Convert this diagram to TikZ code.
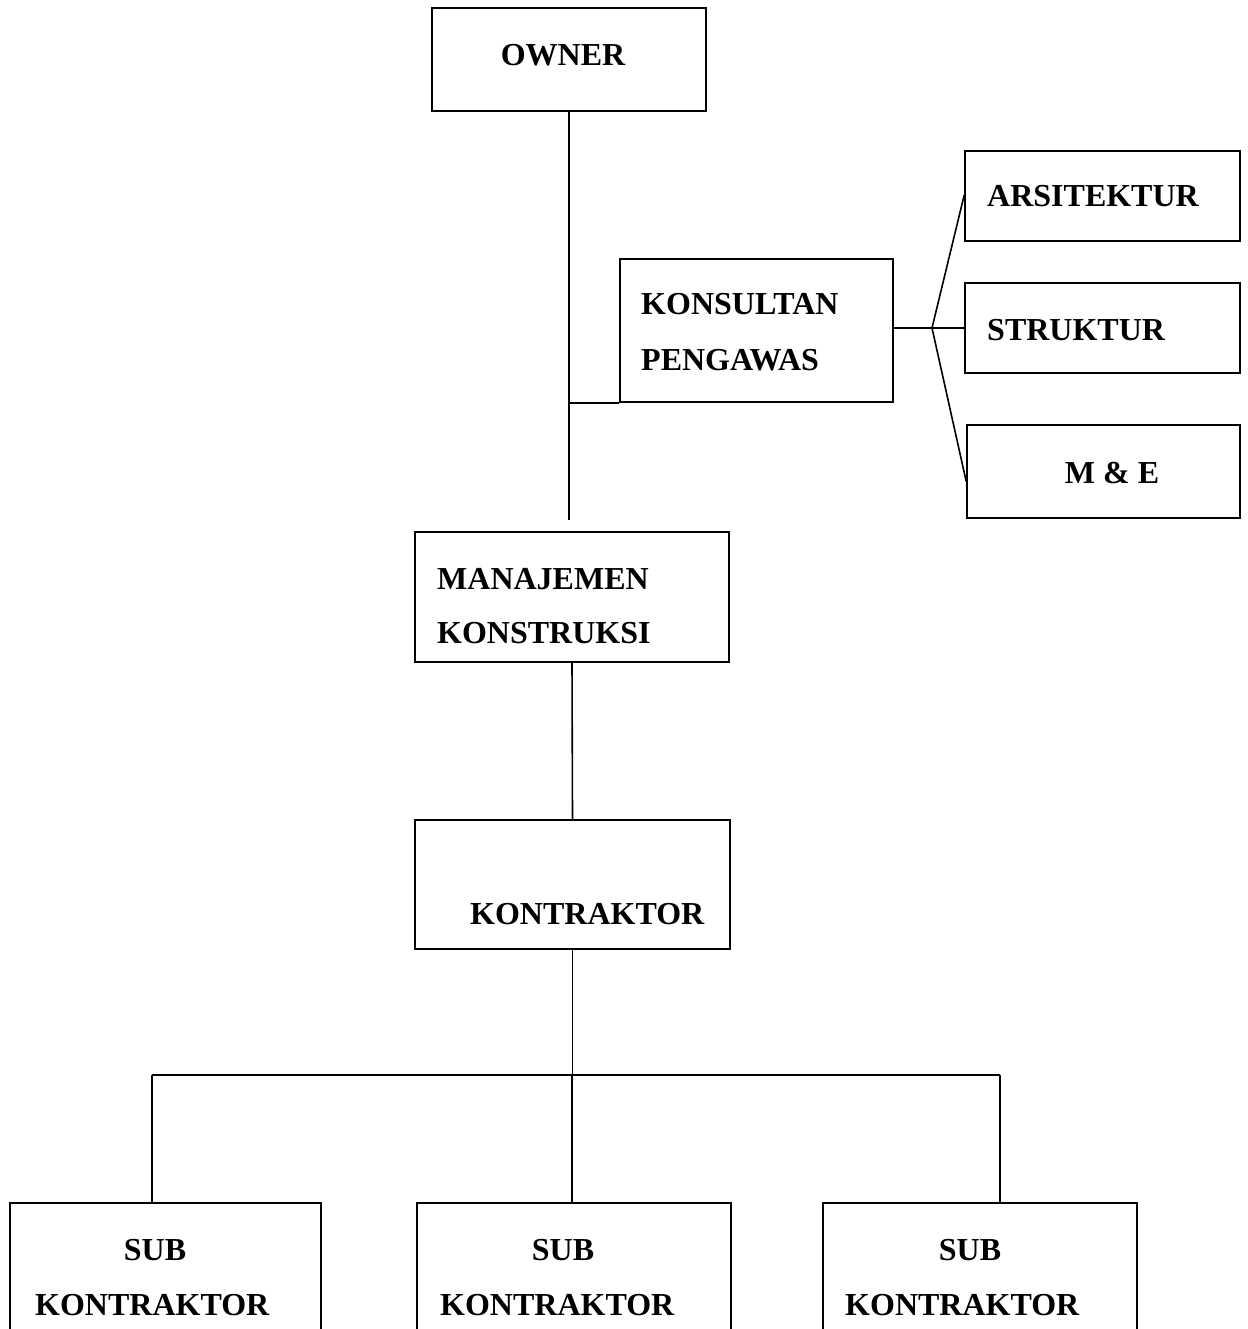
\documentclass[tikz,border=0pt]{standalone}
\usepackage{fontspec}
\setmainfont{Liberation Serif}
\begin{document}
\begin{tikzpicture}[x=1pt,y=-1pt,
  box/.style={draw, line width=1.6pt, inner sep=0pt},
  lbl/.style={font=\fontsize{32}{38}\selectfont\bfseries, inner sep=0pt},
  conn/.style={line width=1.6pt}]
\useasboundingbox (0,0) rectangle (1247,1329);
% boxes
\node[box, minimum width=274pt, minimum height=103pt] (owner) at (569,59.5) {};
\node[box, minimum width=275pt, minimum height=90pt] (ars) at (1102.5,196) {};
\node[box, minimum width=275pt, minimum height=90pt] (str) at (1102.5,328) {};
\node[box, minimum width=273pt, minimum height=93pt] (me) at (1103.5,471.5) {};
\node[box, minimum width=273pt, minimum height=143pt] (kons) at (756.5,330.5) {};
\node[box, minimum width=314pt, minimum height=130pt] (mk) at (572,597) {};
\node[box, minimum width=315pt, minimum height=129pt] (kon) at (572.5,884.5) {};
\node[box, minimum width=311pt, minimum height=167pt] (sub1) at (165.5,1286.5) {};
\node[box, minimum width=314pt, minimum height=167pt] (sub2) at (574,1286.5) {};
\node[box, minimum width=314pt, minimum height=167pt] (sub3) at (980,1286.5) {};
% labels
\node[lbl, anchor=base] (owner-t) at (563,66) {OWNER};
\node[lbl, anchor=base west] (ars-t) at (987,207) {ARSITEKTUR};
\node[lbl, anchor=base west] (str-t) at (987,340) {STRUKTUR};
\node[lbl, anchor=base] (me-t) at (1112,483) {M \& E};
\node[lbl, anchor=base west] (kons-t1) at (641,315) {KONSULTAN};
\node[lbl, anchor=base west] (kons-t2) at (641,370) {PENGAWAS};
\node[lbl, anchor=base west] (mk-t1) at (437,589) {MANAJEMEN};
\node[lbl, anchor=base west] (mk-t2) at (437,643) {KONSTRUKSI};
\node[lbl, anchor=base west] (kon-t) at (470,924) {KONTRAKTOR};
\node[lbl, anchor=base] (sub1-t1) at (155,1260) {SUB};
\node[lbl, anchor=base west] (sub1-t2) at (35,1315) {KONTRAKTOR};
\node[lbl, anchor=base] (sub2-t1) at (563,1260) {SUB};
\node[lbl, anchor=base west] (sub2-t2) at (440,1315) {KONTRAKTOR};
\node[lbl, anchor=base] (sub3-t1) at (970,1260) {SUB};
\node[lbl, anchor=base west] (sub3-t2) at (845,1315) {KONTRAKTOR};
% connectors
\coordinate (ownerend) at (569,520);
\draw[conn] (owner.south) -- (ownerend);
\draw[conn] (kons.south west) -- (kons.south west -| owner.south);
\coordinate (fan) at (932,328);
\draw[conn] (fan -| kons.east) -- (fan);
\draw[conn] (fan) -- ([yshift=1pt]ars.west);
\draw[conn] (fan) -- (str.west);
\draw[conn] (fan) -- ([yshift=-10pt]me.west);
\draw[conn] (mk.south) -- (kon.north);
\coordinate (bar) at (572,1075);
\coordinate (b1) at (152,1075);
\coordinate (b3) at (1000,1075);
\draw[conn] (kon.south) -- (kon.south |- bar);
\draw[conn] (b1) -- (b3);
\draw[conn] (b1) -- (b1 |- sub1.north);
\draw[conn] (bar) -- (bar |- sub2.north);
\draw[conn] (b3) -- (b3 |- sub3.north);
\end{tikzpicture}
\end{document}
